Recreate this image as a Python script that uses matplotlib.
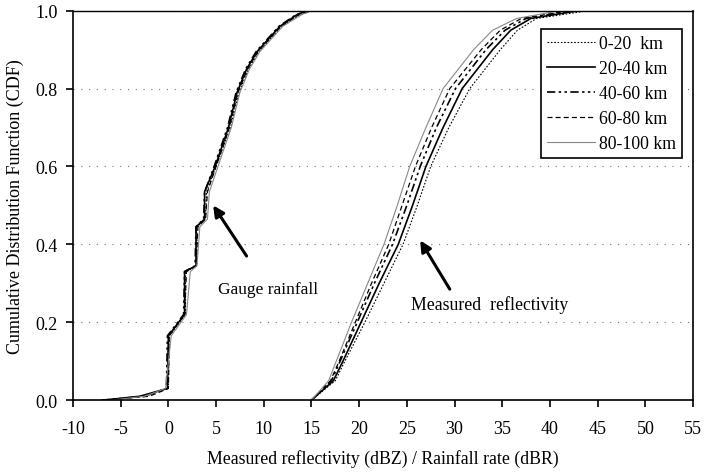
import matplotlib
matplotlib.use("Agg")
import matplotlib.pyplot as plt

plt.rcParams['font.family'] = ['Liberation Serif', 'DejaVu Serif']
plt.rcParams['axes.unicode_minus'] = False

ranges = ['0-20  km', '20-40 km', '40-60 km', '60-80 km', '80-100 km']

# gauge rainfall CDFs (dBR), read at shared CDF levels
gauge_cdf = [0, 0.01, 0.03, 0.165, 0.22, 0.33, 0.345, 0.445, 0.465, 0.535,
             0.60, 0.70, 0.79, 0.85, 0.895, 0.96, 0.99, 1.0]
gauge_x = {
    '0-20  km':  [-6.5, -2.8, 0.0, 0.1, 1.8, 1.8, 3.0, 3.0, 3.9, 4.0, 5.0, 6.5, 7.4, 8.4, 9.5, 11.9, 13.8, 15.0],
    '20-40 km':  [-6.8, -3.0, -0.1, 0.0, 1.7, 1.7, 2.9, 2.9, 3.8, 3.8, 4.9, 6.3, 7.2, 8.2, 9.3, 11.7, 13.5, 14.5],
    '40-60 km':  [-7.0, -2.5, -0.2, -0.1, 1.6, 1.7, 2.8, 2.9, 3.7, 3.8, 4.8, 6.2, 7.1, 8.1, 9.2, 11.6, 13.4, 14.8],
    '60-80 km':  [-6.9, -2.0, 0.0, 0.1, 1.7, 1.9, 2.9, 3.1, 3.9, 4.1, 5.0, 6.4, 7.3, 8.3, 9.4, 11.8, 13.7, 15.2],
    '80-100 km': [-6.0, -2.5, -0.3, 0.3, 1.9, 2.3, 3.0, 3.3, 4.1, 4.3, 5.2, 6.6, 7.5, 8.5, 9.6, 12.0, 14.0, 15.0],
}

# measured reflectivity CDFs (dBZ)
refl_cdf = [0, 0.05, 0.1, 0.2, 0.3, 0.4, 0.5, 0.6, 0.7, 0.8, 0.9, 0.95, 0.98, 1.0]
refl_x = {
    '0-20  km':  [15.0, 17.5, 18.5, 20.6, 22.6, 24.6, 26.1, 27.5, 29.4, 31.6, 34.8, 36.6, 38.6, 44.0],
    '20-40 km':  [15.0, 17.3, 18.3, 20.2, 22.1, 24.1, 25.6, 27.0, 28.8, 30.8, 34.0, 35.9, 38.0, 43.0],
    '40-60 km':  [15.0, 17.1, 18.0, 19.8, 21.6, 23.5, 25.0, 26.4, 28.1, 30.1, 33.3, 35.3, 37.5, 42.5],
    '60-80 km':  [15.0, 17.0, 17.9, 19.6, 21.3, 23.1, 24.5, 25.9, 27.6, 29.5, 32.8, 34.8, 37.0, 42.0],
    '80-100 km': [15.0, 16.8, 17.6, 19.2, 20.9, 22.6, 24.0, 25.3, 27.0, 28.8, 32.0, 34.0, 36.5, 41.0],
}

styles = {
    '0-20  km':  dict(color='black', lw=0.8, ls=(0, (1.5, 1.5))),
    '20-40 km':  dict(color='black', lw=1.2, ls='-'),
    '40-60 km':  dict(color='black', lw=1.2, ls=(0, (5, 2, 1.5, 2, 1.5, 2))),
    '60-80 km':  dict(color='black', lw=0.9, ls=(0, (4, 2.5))),
    '80-100 km': dict(color='#888888', lw=0.8, ls='-'),
}

fig = plt.figure(figsize=(7.05, 4.77), dpi=100)
ax = fig.add_axes([0.1035, 0.159, 0.8795, 0.8165])

for r in ranges:
    ax.plot(gauge_x[r], gauge_cdf, **styles[r], label=r)
    ax.plot(refl_x[r], refl_cdf, **styles[r])

ax.set_xlim(-10, 55)
ax.set_ylim(0, 1.0)
ax.set_xticks(range(-10, 56, 5))
ax.set_yticks([0, 0.2, 0.4, 0.6, 0.8, 1.0])
ax.set_yticklabels(['0.0', '0.2', '0.4', '0.6', '0.8', '1.0'])
ax.tick_params(direction='out', length=5, width=1.2, labelsize=13, colors='black')
ax.tick_params(axis='x', pad=9)
ax.tick_params(axis='y', pad=6)
for y in [0.2, 0.4, 0.6, 0.8, 1.0]:
    ax.axhline(y, color='#777777', lw=0.8, ls=(0, (1, 6)), zorder=0)
for s in ax.spines.values():
    s.set_linewidth(1.2)
ax.spines['top'].set_linewidth(1.0)

ax.set_xlabel('Measured reflectivity (dBZ) / Rainfall rate (dBR)', fontsize=12.8, labelpad=9)
ax.set_ylabel('Cumulative Distribution Function (CDF)', fontsize=13, labelpad=8)

arrow = dict(arrowstyle='-|>', lw=2.2, color='black', mutation_scale=16, shrinkA=0, shrinkB=0)
ax.annotate('', xy=(4.7, 0.50), xytext=(8.2, 0.37), arrowprops=arrow)
ax.text(5.2, 0.285, 'Gauge rainfall', fontsize=12.5, va='center', ha='left')
ax.annotate('', xy=(26.4, 0.41), xytext=(29.5, 0.285), arrowprops=arrow)
ax.text(33.7, 0.247, 'Measured  reflectivity', fontsize=12.8, va='center', ha='center')

leg = ax.legend(loc='upper right', bbox_to_anchor=(0.982, 0.954), borderaxespad=0,
                fontsize=12.8, handlelength=2.7, handletextpad=0.2, labelspacing=0.45,
                borderpad=0.35, fancybox=False, framealpha=1)
leg.get_frame().set_edgecolor('black')
leg.get_frame().set_linewidth(1.2)

fig.savefig('out.png', dpi=100)
